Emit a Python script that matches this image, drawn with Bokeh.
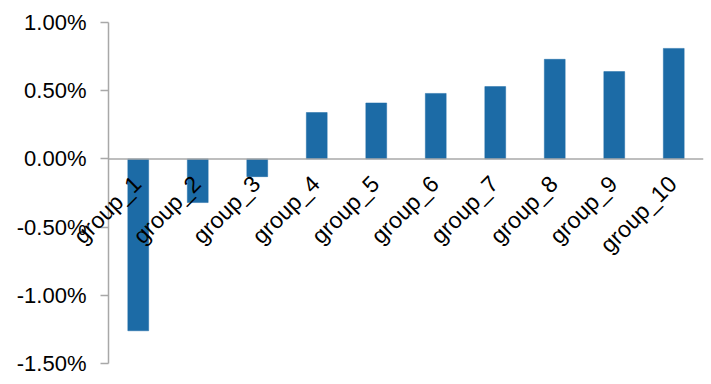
import math
from bokeh.plotting import figure
from bokeh.models import (ColumnDataSource, Range1d, FixedTicker,
                          NumeralTickFormatter, Label)
from bokeh.embed import file_html
from bokeh.resources import INLINE

categories = ["group_1", "group_2", "group_3", "group_4", "group_5",
              "group_6", "group_7", "group_8", "group_9", "group_10"]
values = [-0.0126, -0.0032, -0.0013, 0.0034, 0.0041,
          0.0048, 0.0053, 0.0073, 0.0064, 0.0081]
y_ticks = [-0.015, -0.01, -0.005, 0.0, 0.005, 0.01]

FONT = "Liberation Sans"
GREY = "#a8a8a8"
BAR = "#1c6ba6"

n = len(categories)
xpos = [i + 0.5 for i in range(n)]
src = ColumnDataSource(dict(x=xpos, cat=categories, val=values))

# frame covers the whole page; the axis is drawn inside it at x = 0
Y0, Y1 = y_ticks[0], y_ticks[-1]
k = (Y1 - Y0) / 341.0          # data units per pixel
LEFT_UNITS = 108 / 59.5
p = figure(width=711, height=384, x_range=Range1d(-LEFT_UNITS, n),
           y_range=Range1d(Y0 - 21 * k, Y1 + 22 * k), output_backend="svg",
           toolbar_location=None, x_axis_location=None,
           min_border_left=0, min_border_right=8,
           min_border_top=0, min_border_bottom=0)
p.outline_line_color = None
p.xgrid.visible = False
p.ygrid.visible = False

p.vbar(x="x", top="val", bottom=0, width=0.35, source=src,
       fill_color=BAR, line_color=BAR, line_width=0.5)

# zero line from the axis to the right end
p.line(x=[0, n], y=[0, 0], line_color=GREY, line_width=1.5)

ya = p.yaxis[0]
ya.fixed_location = 0
ya.bounds = (Y0, Y1)
ya.ticker = FixedTicker(ticks=y_ticks)
ya.formatter = NumeralTickFormatter(format="0.00%")
ya.axis_line_color = GREY
ya.axis_line_width = 1.5
ya.major_tick_line_color = GREY
ya.major_tick_line_width = 1.5
ya.major_tick_out = 8
ya.major_tick_in = 0
ya.minor_tick_line_color = None
ya.major_label_text_font = FONT
ya.major_label_text_font_size = "22px"
ya.major_label_text_color = "black"
ya.major_label_standoff = 14

for xi, c in zip(xpos, categories):
    p.add_layout(Label(x=xi, y=0, text=c, angle=math.pi / 4,
                       text_align="right", text_baseline="middle",
                       x_offset=-1, y_offset=-21, text_font=FONT,
                       text_font_size="23px", text_color="black"))

open("out.html", "w").write(file_html(p, INLINE))
